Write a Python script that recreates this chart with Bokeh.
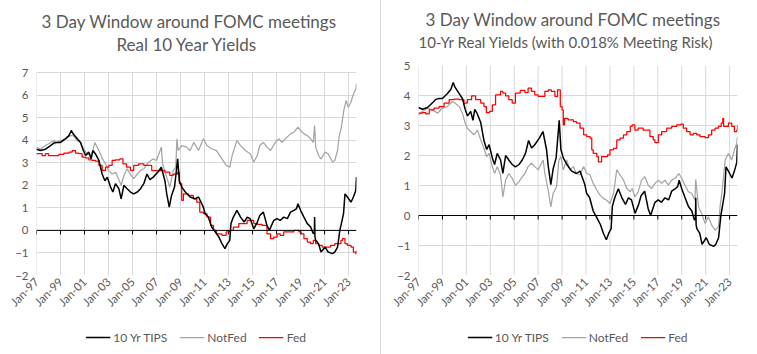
import math
from bokeh.plotting import figure
from bokeh.models import FixedTicker, Span, Legend, LegendItem, Title, Range1d, Div
from bokeh.layouts import row, column
from bokeh.embed import file_html
from bokeh.resources import INLINE

# ---------------- data ----------------
tick_years = [1997, 1999, 2001, 2003, 2005, 2007, 2009, 2011, 2013, 2015, 2017, 2019, 2021, 2023]
tick_labels = ["Jan-97", "Jan-99", "Jan-01", "Jan-03", "Jan-05", "Jan-07", "Jan-09",
               "Jan-11", "Jan-13", "Jan-15", "Jan-17", "Jan-19", "Jan-21", "Jan-23"]
x_end = 2023.66
series_names = ["10 Yr TIPS", "NotFed", "Fed"]

# 10 Yr TIPS (same series in both panels)
tips_t = [1997.0, 1997.33, 1997.75, 1998.17, 1998.44, 1998.72, 1999.0, 1999.4, 1999.7, 1999.9,
          2000.05, 2000.4, 2000.67, 2000.9, 2001.1, 2001.36, 2001.55, 2001.7, 2001.9, 2002.2,
          2002.47, 2002.7, 2002.9, 2003.17, 2003.36, 2003.58, 2003.86, 2004.05, 2004.28, 2004.55,
          2004.83, 2005.1, 2005.4, 2005.67, 2005.94, 2006.2, 2006.45, 2006.7, 2007.1, 2007.4,
          2007.7, 2007.85, 2008.06, 2008.25, 2008.5, 2008.7, 2008.76, 2008.9, 2009.1, 2009.4,
          2009.8, 2010.2, 2010.5, 2010.9, 2011.05, 2011.3, 2011.6, 2011.9, 2012.2, 2012.45,
          2012.7, 2012.9, 2013.1, 2013.2, 2013.4, 2013.7, 2014.0, 2014.3, 2014.55, 2014.8,
          2015.1, 2015.4, 2015.6, 2015.9, 2016.2, 2016.4, 2016.76, 2017.04, 2017.3, 2017.6,
          2017.9, 2018.16, 2018.44, 2018.66, 2018.78, 2019.0, 2019.28, 2019.56, 2019.84, 2020.06,
          2020.15, 2020.17, 2020.2, 2020.26, 2020.5, 2020.7, 2021.05, 2021.3, 2021.66, 2021.85,
          2022.08, 2022.27, 2022.4, 2022.58, 2022.7, 2022.9, 2023.2, 2023.4, 2023.6, 2023.66]
tips_v = [3.6, 3.54, 3.6, 3.76, 3.87, 3.9, 3.9, 4.06, 4.2, 4.43,
          4.28, 4.06, 3.9, 3.54, 3.32, 3.47, 3.17, 3.54, 3.4, 3.1,
          2.5, 2.2, 2.36, 1.92, 1.7, 2.07, 1.85, 1.4, 2.0, 1.85,
          1.7, 1.62, 1.7, 1.85, 2.07, 2.5, 2.25, 2.35, 2.58, 2.8,
          2.2, 1.62, 1.03, 1.55, 1.92, 2.88, 3.17, 2.2, 1.92, 1.7,
          1.48, 1.4, 1.48, 1.03, 0.74, 0.6, 0.15, -0.07, -0.3, -0.59,
          -0.81, -0.59, -0.44, 0.3, 0.59, 0.89, 0.59, 0.37, 0.59, 0.52,
          0.07, 0.37, 0.66, 0.81, 0.22, 0.0, 0.44, 0.52, 0.44, 0.59,
          0.52, 0.81, 0.89, 0.96, 1.18, 0.89, 0.59, 0.3, 0.15, -0.15,
          -0.1, 0.59, -0.3, -0.44, -0.59, -0.96, -0.74, -0.96, -1.03, -0.96,
          -0.74, 0.0, 0.3, 0.74, 1.62, 1.48, 1.25, 1.48, 1.77, 2.36]

# Left panel: NotFed and Fed (Real 10 Year Yields)
notfed_l_t = [1997.0, 1997.33, 1997.75, 1998.2, 1998.44, 1998.7, 1999.0, 1999.4, 1999.83, 2000.05,
              2000.4, 2000.67, 2000.94, 2001.2, 2001.5, 2001.7, 2001.86, 2002.2, 2002.5, 2002.75,
              2003.0, 2003.3, 2003.6, 2003.9, 2004.05, 2004.33, 2004.55, 2004.8, 2005.1, 2005.4,
              2005.67, 2005.94, 2006.3, 2006.7, 2007.0, 2007.3, 2007.4, 2007.5, 2007.85, 2008.1,
              2008.4, 2008.6, 2008.7, 2008.8, 2009.1, 2009.5, 2009.8, 2010.1, 2010.5, 2010.9,
              2011.2, 2011.6, 2012.0, 2012.45, 2012.8, 2013.1, 2013.3, 2013.7, 2014.0, 2014.4,
              2014.8, 2015.1, 2015.4, 2015.6, 2015.9, 2016.2, 2016.5, 2016.9, 2017.2, 2017.46,
              2017.74, 2018.16, 2018.44, 2018.78, 2019.0, 2019.28, 2019.56, 2019.84, 2020.06, 2020.17,
              2020.26, 2020.5, 2020.7, 2021.05, 2021.3, 2021.66, 2021.85, 2022.08, 2022.2, 2022.4,
              2022.6, 2022.8, 2022.97, 2023.2, 2023.4, 2023.6, 2023.66]
notfed_l_v = [3.69, 3.6, 3.76, 3.9, 3.98, 3.9, 3.98, 4.06, 4.2, 4.2,
              3.98, 3.9, 3.6, 3.4, 3.32, 3.54, 3.9, 3.54, 3.17, 2.95,
              2.65, 2.5, 2.58, 2.2, 2.0, 2.5, 2.73, 2.5, 2.29, 2.5,
              2.65, 2.73, 3.0, 3.17, 3.1, 3.54, 3.69, 2.95, 2.36, 1.92,
              2.65, 2.8, 4.06, 3.54, 3.76, 3.69, 3.54, 3.9, 3.54, 4.06,
              3.76, 3.62, 3.54, 3.17, 2.88, 2.8, 3.32, 3.98, 3.76, 3.54,
              3.4, 3.03, 3.32, 3.76, 3.9, 3.69, 3.54, 3.9, 4.06, 3.9,
              4.06, 4.28, 4.35, 4.58, 4.43, 4.28, 4.2, 4.06, 3.9, 4.65,
              3.69, 3.32, 3.17, 3.47, 3.4, 3.03, 3.1, 3.54, 4.13, 4.58,
              5.31, 5.76, 5.46, 5.68, 6.05, 6.27, 6.5]

fed_l_t = [1997.0, 1997.47, 1997.75, 1998.0, 1998.86, 1999.28, 1999.7, 1999.97, 2000.25, 2000.53,
           2000.8, 2001.08, 2001.36, 2001.64, 2001.92, 2002.2, 2002.47, 2002.75, 2003.03, 2003.3,
           2003.58, 2003.94, 2004.2, 2004.5, 2004.83, 2005.1, 2005.5, 2005.94, 2006.2, 2006.6,
           2007.3, 2007.7, 2008.1, 2008.4, 2008.76, 2008.9, 2009.1, 2009.24, 2009.65, 2010.07,
           2010.35, 2010.6, 2010.9, 2011.2, 2011.5, 2011.75, 2012.0, 2012.45, 2012.8, 2013.15,
           2013.4, 2013.85, 2014.3, 2014.55, 2014.8, 2015.1, 2015.4, 2015.8, 2016.2, 2016.5,
           2016.76, 2017.04, 2017.3, 2017.6, 2018.0, 2018.44, 2018.86, 2019.05, 2019.28, 2019.56,
           2019.84, 2020.06, 2020.26, 2020.5, 2020.8, 2021.24, 2021.5, 2021.85, 2022.08, 2022.36,
           2022.5, 2022.7, 2022.9, 2023.2, 2023.4, 2023.6, 2023.66]
fed_l_v = [3.4, 3.32, 3.4, 3.32, 3.37, 3.42, 3.47, 3.54, 3.42, 3.4,
           3.25, 3.22, 3.13, 3.1, 3.07, 2.88, 2.66, 2.8, 2.88, 3.1,
           3.13, 3.17, 2.95, 2.8, 2.66, 2.88, 2.95, 2.88, 2.88, 2.65,
           2.65, 2.58, 2.44, 2.5, 2.58, 2.07, 1.33, 1.62, 1.55, 1.4,
           1.25, 0.81, 0.74, 0.59, 0.22, 0.0, -0.15, -0.22, -0.07, 0.0,
           0.15, 0.3, 0.3, 0.44, 0.44, 0.3, 0.27, 0.22, -0.15, -0.37,
           -0.3, -0.15, -0.22, -0.07, -0.07, 0.0, -0.07, -0.15, -0.37, -0.52,
           -0.59, -0.44, -0.59, -0.66, -0.74, -0.74, -0.66, -0.59, -0.59, -0.44,
           -0.37, -0.59, -0.66, -0.74, -0.96, -1.03, -0.89]

# Right panel: NotFed and Fed (with 0.018% Meeting Risk)
notfed_r_t = [1997.0, 1997.33, 1997.75, 1998.17, 1998.6, 1999.0, 1999.4, 1999.83, 2000.05, 2000.4,
              2000.67, 2000.9, 2001.08, 2001.36, 2001.64, 2001.92, 2002.2, 2002.47, 2002.7, 2002.9,
              2003.17, 2003.36, 2003.58, 2003.86, 2004.05, 2004.28, 2004.55, 2004.83, 2005.1, 2005.4,
              2005.67, 2005.9, 2006.16, 2006.44, 2006.72, 2007.0, 2007.28, 2007.42, 2007.56, 2007.84,
              2008.06, 2008.25, 2008.54, 2008.73, 2008.9, 2009.1, 2009.38, 2009.66, 2009.94, 2010.2,
              2010.5, 2010.8, 2011.06, 2011.34, 2011.6, 2011.9, 2012.17, 2012.45, 2012.73, 2013.0,
              2013.3, 2013.57, 2013.85, 2014.13, 2014.41, 2014.7, 2014.86, 2015.08, 2015.36, 2015.64,
              2015.92, 2016.2, 2016.48, 2016.76, 2017.04, 2017.32, 2017.6, 2017.88, 2018.16, 2018.44,
              2018.77, 2019.0, 2019.27, 2019.55, 2019.83, 2020.1, 2020.17, 2020.4, 2020.67, 2020.95,
              2021.23, 2021.5, 2021.79, 2022.07, 2022.2, 2022.35, 2022.63, 2022.9, 2023.18, 2023.4,
              2023.6, 2023.66]
notfed_r_v = [3.36, 3.47, 3.58, 3.52, 3.41, 3.58, 3.63, 3.8, 3.75, 3.63,
              3.41, 3.08, 2.91, 2.8, 2.69, 2.85, 2.52, 2.24, 1.96, 2.07,
              1.63, 1.4, 1.63, 1.35, 0.62, 1.18, 1.4, 1.24, 1.01, 1.13,
              1.29, 1.4, 1.63, 1.74, 1.63, 1.52, 1.74, 1.85, 1.4, 0.85,
              0.29, 0.74, 0.96, 1.85, 1.96, 1.52, 1.85, 1.52, 1.63, 1.4,
              1.35, 1.63, 1.4, 1.35, 1.07, 0.85, 0.68, 0.57, 0.51, 0.4,
              0.74, 1.52, 1.35, 1.18, 0.9, 0.79, 0.9, 0.62, 0.79, 1.18,
              1.29, 1.01, 0.9, 1.07, 1.18, 1.07, 1.18, 1.01, 1.18, 1.24,
              1.4, 1.24, 1.01, 0.79, 0.74, 0.51, 1.2, 0.29, 0.07, -0.27,
              -0.04, -0.32, -0.49, -0.38, 0.29, 0.74, 1.85, 2.07, 1.85, 2.19,
              2.41, 2.63]

fed_r_t = [1997.0, 1997.33, 1997.6, 1997.9, 1998.3, 1998.72, 1999.14, 1999.56, 1999.97, 2000.4,
           2000.8, 2001.08, 2001.44, 2001.78, 2002.2, 2002.47, 2002.67, 2002.94, 2003.17, 2003.44,
           2003.86, 2004.05, 2004.28, 2004.55, 2004.83, 2005.1, 2005.5, 2005.9, 2006.16, 2006.44,
           2006.72, 2007.0, 2007.28, 2007.56, 2007.84, 2008.1, 2008.4, 2008.62, 2008.85, 2009.0,
           2009.1, 2009.2, 2009.5, 2009.94, 2010.2, 2010.5, 2010.8, 2011.06, 2011.34, 2011.48,
           2011.6, 2011.9, 2012.03, 2012.3, 2012.8, 2013.0, 2013.3, 2013.57, 2013.85, 2014.13,
           2014.41, 2014.7, 2014.86, 2015.08, 2015.36, 2015.78, 2016.06, 2016.34, 2016.62, 2016.76,
           2017.04, 2017.32, 2017.74, 2018.16, 2018.58, 2018.94, 2019.13, 2019.41, 2019.7, 2019.97,
           2020.25, 2020.53, 2020.95, 2021.23, 2021.5, 2021.79, 2022.07, 2022.3, 2022.43, 2022.5,
           2022.9, 2023.18, 2023.4, 2023.6, 2023.66]
fed_r_v = [3.41, 3.43, 3.39, 3.52, 3.58, 3.63, 3.75, 3.86, 3.88, 3.86,
           3.75, 3.86, 3.99, 3.86, 3.75, 3.63, 3.43, 3.47, 3.69, 4.02,
           4.14, 4.08, 3.99, 3.86, 3.75, 4.08, 4.17, 4.1, 4.25, 4.14,
           4.02, 3.97, 3.97, 4.14, 4.19, 4.14, 3.97, 4.19, 3.63, 3.52,
           3.02, 3.24, 3.19, 3.13, 3.08, 2.91, 2.69, 2.63, 2.58, 2.19,
           2.07, 1.96, 1.79, 1.96, 2.02, 2.19, 2.24, 2.52, 2.58, 2.69,
           2.8, 2.97, 3.02, 2.85, 2.91, 2.85, 2.85, 2.63, 2.52, 2.43,
           2.69, 2.8, 2.91, 2.97, 3.02, 3.05, 2.91, 2.8, 2.69, 2.74,
           2.69, 2.63, 2.6, 2.69, 2.85, 2.91, 2.97, 3.08, 3.24, 2.97,
           3.08, 2.97, 2.8, 2.85, 3.02]

# ---------------- styling ----------------
FONT = "Lato"
TXT = "#595959"
GRID = "#d9d9d9"
COLORS = ["black", "#a5a5a5", "#ff0000"]
WIDTHS = [1.5, 1.25, 1.25]
FRAME_TOP = 65
FRAME_H = 210
MAIN_BOTTOM = 45
LEGEND_H = 354 - FRAME_TOP - FRAME_H - MAIN_BOTTOM


def make_panel(frame_w, b_left, b_right, ymin, ymax, px_per_unit,
               title1, t1_off, t1_standoff,
               title2, t2_size, t2_off, spacer_standoff,
               nf_t, nf_v, fd_t, fd_v):
    ytop = ymin + FRAME_H / px_per_unit
    p = figure(frame_width=frame_w, frame_height=FRAME_H,
               output_backend="svg", toolbar_location=None,
               x_range=Range1d(1997, x_end), y_range=Range1d(ymin, ytop),
               min_border_left=b_left, min_border_right=b_right,
               min_border_top=FRAME_TOP, min_border_bottom=MAIN_BOTTOM,
               background_fill_color="white", border_fill_color="white",
               outline_line_color=None)

    p.xaxis.ticker = FixedTicker(ticks=tick_years)
    p.xaxis.major_label_overrides = {y: l for y, l in zip(tick_years, tick_labels)}
    p.xaxis.major_label_orientation = math.pi / 4
    p.yaxis.ticker = FixedTicker(ticks=list(range(ymin, ymax + 1)))
    for ax in (p.xaxis, p.yaxis):
        ax.axis_line_color = None
        ax.major_tick_line_color = None
        ax.minor_tick_line_color = None
        ax.major_tick_out = 0
        ax.major_tick_in = 0
        ax.major_label_text_font = FONT
        ax.major_label_text_color = TXT
        ax.major_label_text_font_size = "11.5px"
    p.xaxis.major_label_standoff = 4
    p.yaxis.major_label_standoff = 8
    p.ygrid.grid_line_color = GRID
    p.xgrid.visible = False
    p.segment(x0=tick_years, y0=[ymin] * len(tick_years), x1=tick_years,
              y1=[ymax] * len(tick_years), line_color=GRID, line_width=1)

    p.add_layout(Span(location=0, dimension="width", line_color="black", line_width=1))
    tick_len = 4 / px_per_unit
    p.segment(x0=tick_years, y0=[0] * len(tick_years), x1=tick_years,
              y1=[-tick_len] * len(tick_years), line_color="black", line_width=1)

    p.line(nf_t, nf_v, line_color=COLORS[1], line_width=WIDTHS[1])
    p.step(fd_t, fd_v, mode="after", line_color=COLORS[2], line_width=WIDTHS[2])
    p.line(tips_t, tips_v, line_color=COLORS[0], line_width=WIDTHS[0])

    p.add_layout(Title(text=" ", text_font_size="8px", standoff=spacer_standoff), "above")
    p.add_layout(Title(text=title2, align="left", text_font=FONT, text_font_size=t2_size,
                       text_color=TXT, text_font_style="normal", offset=t2_off,
                       standoff=0), "above")
    p.add_layout(Title(text=title1, align="left", text_font=FONT, text_font_size="17px",
                       text_color=TXT, text_font_style="normal", offset=t1_off,
                       standoff=t1_standoff), "above")

    # legend strip underneath: its own small plot (its x range hides the series),
    # legend inside its frame
    lg = figure(frame_width=frame_w, frame_height=LEGEND_H,
                output_backend="svg", toolbar_location=None,
                x_range=Range1d(0, 1), y_range=Range1d(0, 1),
                min_border_left=b_left, min_border_right=b_right,
                min_border_top=0, min_border_bottom=0,
                background_fill_color="white", border_fill_color="white",
                outline_line_color=None)
    lg.axis.visible = False
    lg.grid.visible = False
    r0 = lg.line(tips_t, tips_v, line_color=COLORS[0], line_width=WIDTHS[0])
    r1 = lg.line(nf_t, nf_v, line_color=COLORS[1], line_width=WIDTHS[1])
    r2 = lg.line(fd_t, fd_v, line_color=COLORS[2], line_width=WIDTHS[2])
    items = [LegendItem(label=n, renderers=[r]) for n, r in zip(series_names, [r0, r1, r2])]
    legend = Legend(items=items, orientation="horizontal", location="center",
                    border_line_color=None, background_fill_alpha=0,
                    label_text_font=FONT, label_text_font_size="12px",
                    label_text_color=TXT, glyph_width=25, glyph_height=14,
                    label_height=16, label_standoff=3, spacing=12, padding=0, margin=0)
    lg.add_layout(legend)
    return column(p, lg, spacing=0)


left = make_panel(320, 36, 24, -2, 7, 203 / 9,
                  "3 Day Window around FOMC meetings", 5, -1,
                  "Real 10 Year Yields", "17px", 80, -0.5,
                  notfed_l_t, notfed_l_v, fed_l_t, fed_l_v)
right = make_panel(319, 37, 20, -2, 5, 210 / 7,
                   "3 Day Window around FOMC meetings", 7, 0.6,
                   "10-Yr Real Yields (with 0.018% Meeting Risk)", "15px", 0, 3.7,
                   notfed_r_t, notfed_r_v, fed_r_t, fed_r_v)

sep = Div(text="", width=1, height=354, margin=0,
          styles={"background-color": "#d9d9d9"})

layout = row(left, sep, right)
open("out.html", "w").write(file_html(layout, INLINE))
